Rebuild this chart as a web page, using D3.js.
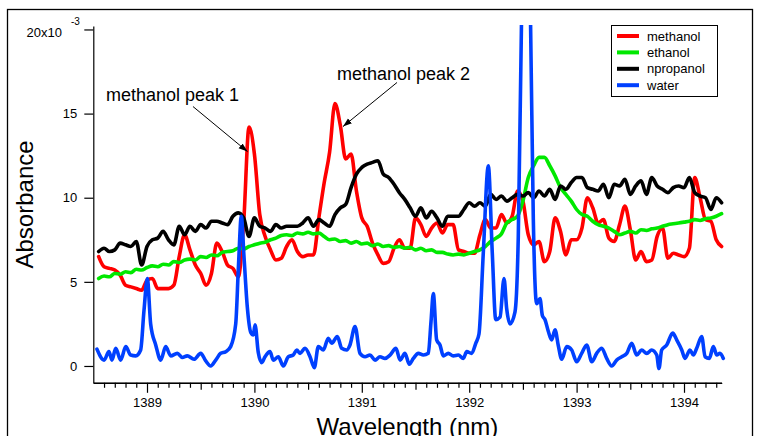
<!DOCTYPE html>
<html><head><meta charset="utf-8">
<script src="https://cdn.jsdelivr.net/npm/d3@7/dist/d3.min.js"></script>
<style>body{margin:0;background:#fff}svg{display:block;font-family:Arial,"Liberation Sans",sans-serif}</style>
</head><body><svg id="c" width="758" height="436"></svg>
<script>
// ---- data (absorbance in units of 1e-3) ----
const wavelength = [1388.55,1388.60,1388.65,1388.70,1388.75,1388.80,1388.85,1388.90,1388.95,
1389.00,1389.05,1389.10,1389.15,1389.20,1389.25,1389.30,1389.35,1389.40,1389.45,1389.50,1389.55,1389.60,1389.65,1389.70,1389.75,1389.80,1389.85,1389.90,1389.95,
1390.00,1390.05,1390.10,1390.15,1390.20,1390.25,1390.30,1390.35,1390.40,1390.45,1390.50,1390.55,1390.60,1390.65,1390.70,1390.75,1390.80,1390.85,1390.90,1390.95,
1391.00,1391.05,1391.10,1391.15,1391.20,1391.25,1391.30,1391.35,1391.40,1391.45,1391.50,1391.55,1391.60,1391.65,1391.70,1391.75,1391.80,1391.85,1391.90,1391.95,
1392.00,1392.05,1392.10,1392.15,1392.20,1392.25,1392.30,1392.35,1392.40,1392.45,1392.50,1392.55,1392.60,1392.65,1392.70,1392.75,1392.80,1392.85,1392.90,1392.95,
1393.00,1393.05,1393.10,1393.15,1393.20,1393.25,1393.30,1393.35,1393.40,1393.45,1393.50,1393.55,1393.60,1393.65,1393.70,1393.75,1393.80,1393.85,1393.90,1393.95,
1394.00,1394.05,1394.10,1394.15,1394.20,1394.25,1394.30,1394.35];

const methanol = [6.5,5.9,5.8,5.7,5.4,4.8,4.7,4.6,4.5,5.1,
5.2,4.6,4.6,4.6,4.8,6.5,7.8,6.9,6.0,5.5,
4.8,5.5,7.3,6.8,6.0,5.8,5.3,8.5,14.2,12.6,
9.0,7.7,6.9,6.3,6.4,7.1,7.5,6.8,6.5,6.6,
6.6,8.8,10.9,12.7,15.6,14.3,12.3,12.6,10.4,8.8,
8.3,7.3,6.6,6.1,6.2,7.0,7.5,7.0,7.0,8.8,
8.4,7.7,8.2,8.5,7.9,8.4,8.4,6.9,6.8,6.7,
6.7,7.8,8.7,8.2,8.2,9.0,8.5,8.9,10.4,9.8,
7.8,7.2,7.4,6.2,6.8,8.8,8.0,6.6,7.5,7.5,
8.2,10.0,9.4,8.5,8.7,7.6,7.4,8.4,9.5,8.1,
6.3,6.8,6.2,6.3,7.7,8.2,6.4,6.7,6.6,6.5,
7.0,11.2,10.0,8.7,8.6,7.5,7.1];

const ethanol = [5.2,5.35,5.3,5.5,5.45,5.6,5.55,5.75,5.7,5.85,
5.95,5.9,6.05,6.0,6.2,6.15,6.3,6.35,6.3,6.5,
6.45,6.6,6.55,6.75,6.8,6.85,7.0,6.95,7.1,7.2,
7.3,7.35,7.5,7.6,7.75,7.8,7.75,7.9,7.85,7.95,
7.85,7.9,7.7,7.5,7.55,7.4,7.45,7.3,7.4,7.25,
7.3,7.15,7.25,7.1,7.15,7.05,7.1,7.0,7.05,6.9,
7.0,6.85,6.9,6.75,6.75,6.65,6.6,6.65,6.6,6.7,
6.8,6.9,7.1,7.4,7.6,7.85,8.5,8.7,8.9,9.8,
11.2,11.9,12.4,12.4,11.9,11.3,10.6,10.2,9.8,9.3,
9.0,8.9,8.6,8.4,8.3,8.2,8.0,7.8,7.9,8.0,
7.9,8.1,8.05,8.15,8.2,8.3,8.4,8.45,8.5,8.55,
8.6,8.7,8.65,8.75,8.8,8.9,9.05];

const npropanol = [6.8,7.0,6.8,6.9,7.3,7.2,7.1,7.4,6.0,7.1,
7.5,7.6,8.0,7.5,7.2,8.3,7.8,8.3,8.0,8.4,
8.2,8.6,8.6,8.5,8.4,8.9,9.1,8.8,7.7,8.8,
8.3,8.2,8.0,8.4,8.2,8.3,8.3,8.3,8.5,8.8,
8.3,8.7,8.5,8.3,9.0,9.4,9.6,10.6,11.4,11.8,
12.0,12.1,12.2,11.4,11.2,10.8,10.3,9.9,9.4,8.9,
9.4,8.8,9.2,8.8,8.3,8.9,8.9,8.9,9.3,9.7,
9.5,9.7,9.5,10.2,9.9,10.1,9.8,10.0,10.2,10.1,
10.3,10.0,10.4,10.1,10.5,9.9,10.7,10.5,10.9,11.2,
11.2,10.6,10.5,10.4,10.8,10.0,10.8,10.7,11.1,10.2,
10.7,11.0,10.2,11.2,10.7,10.5,10.3,10.6,10.7,10.6,
11.2,10.3,10.1,10.0,9.3,10.0,9.7];

const waterWavelength = [1388.534,1388.600,1388.646,1388.674,1388.709,1388.755,1388.802,1388.848,1388.895,1388.941,
1388.972,1389.003,1389.034,1389.081,1389.128,1389.174,1389.221,1389.282,1389.329,1389.375,
1389.438,1389.500,1389.547,1389.593,1389.640,1389.686,1389.733,1389.779,1389.826,1389.852,
1389.878,1389.903,1389.934,1389.966,1389.990,1390.006,1390.036,1390.068,1390.099,1390.145,
1390.176,1390.223,1390.269,1390.316,1390.362,1390.394,1390.425,1390.471,1390.518,1390.558,
1390.595,1390.642,1390.688,1390.720,1390.772,1390.813,1390.859,1390.890,1390.937,1390.983,
1391.030,1391.076,1391.123,1391.169,1391.216,1391.263,1391.318,1391.356,1391.402,1391.442,
1391.480,1391.526,1391.573,1391.619,1391.644,1391.666,1391.697,1391.728,1391.759,1391.805,
1391.852,1391.899,1391.945,1391.977,1392.023,1392.061,1392.091,1392.131,1392.178,1392.215,
1392.247,1392.287,1392.324,1392.349,1392.380,1392.426,1392.457,1392.487,1392.529,1392.571,
1392.597,1392.628,1392.659,1392.681,1392.706,1392.737,1392.768,1392.799,1392.830,1392.861,
1392.908,1392.954,1393.001,1393.047,1393.094,1393.141,1393.187,1393.234,1393.280,1393.327,
1393.373,1393.420,1393.467,1393.513,1393.560,1393.606,1393.653,1393.699,1393.746,1393.767,
1393.792,1393.839,1393.895,1393.932,1393.979,1394.009,1394.056,1394.087,1394.118,1394.165,
1394.196,1394.236,1394.273,1394.305,1394.335,1394.366];

const water = [1.0,0.35,0.85,0.35,1.05,0.35,1.15,0.65,0.6,0.95,
3.3,5.2,2.5,1.25,0.35,1.15,0.6,0.75,0.5,0.6,
0.4,0.75,0.3,0.0,0.35,0.75,0.85,1.15,2.5,6.0,
8.9,6.5,3.5,2.0,1.85,2.45,0.8,0.2,0.55,0.85,
0.35,0.55,0.0,0.55,0.65,0.95,0.75,1.05,0.55,-0.1,
1.15,0.95,1.65,1.35,1.75,1.05,0.95,1.25,2.35,0.75,
0.55,0.65,0.35,0.55,0.45,0.65,1.05,0.35,0.75,0.1,
0.45,0.75,0.65,0.75,2.6,4.3,1.55,1.25,0.6,0.75,
0.6,0.65,0.45,0.85,0.75,1.35,1.9,6.7,11.9,6.7,
2.75,2.9,5.2,3.4,2.5,3.2,7.7,20.5,30,20.5,
8.7,3.7,4.0,3.0,2.75,2.05,1.55,2.15,1.2,0.4,
1.15,0.95,0.25,0.75,1.25,0.25,0.75,1.05,0.45,0.0,
0.35,0.55,0.75,1.35,0.65,0.95,0.75,0.95,0.65,-0.15,
0.95,1.25,1.95,1.55,0.95,0.45,0.95,0.65,1.05,1.75,
0.55,0.45,1.15,0.65,0.75,0.45];

const seriesNames = ["methanol","ethanol","npropanol","water"];
const seriesColors = ["#ff0000","#00e800","#000000","#0040ff"];
const xMajorTicks = [1389,1390,1391,1392,1393,1394];
const yTicks = [0,5,10,15,20];
const annotations = [
  {label:"methanol peak 1", textX:1388.618, textY:15.77, fromX:1389.428, fromY:15.42, toX:1389.936, toY:12.74},
  {label:"methanol peak 2", textX:1390.769, textY:17.02, fromX:1391.328, fromY:16.85, toX:1390.825, toY:14.23}
];

// ---- chart ----
const svg = d3.select("#c");
const X0 = 93.3, X1 = 721.6, YT = 26.1, YB = 382.8;
const x = d3.scaleLinear().domain([1388.5, 1394.35]).range([X0, X1]);
const y = d3.scaleLinear().domain([-1, 20.2]).range([YB, YT]);

svg.append("rect").attr("x",7.5).attr("y",9.5).attr("width",745).attr("height",460)
  .attr("fill","none").attr("stroke","#000").attr("stroke-width",1.3);

const defs = svg.append("defs");
defs.append("clipPath").attr("id","plot").append("rect")
  .attr("x",X0).attr("y",YT-1).attr("width",X1-X0+6).attr("height",YB-YT+1);
defs.append("marker").attr("id","arrow").attr("viewBox","0 0 10 10").attr("refX",10).attr("refY",5)
  .attr("markerWidth",9).attr("markerHeight",9).attr("markerUnits","userSpaceOnUse").attr("orient","auto")
  .append("path").attr("d","M0,1.5L10,5L0,8.5Z").attr("fill","#000");

const line = d3.line().x(d=>x(d[0])).y(d=>y(d[1])).curve(d3.curveMonotoneX);
const seriesData = [
  d3.zip(wavelength, methanol),
  d3.zip(wavelength, ethanol),
  d3.zip(wavelength, npropanol),
  d3.zip(waterWavelength, water)
];
const gLines = svg.append("g").attr("clip-path","url(#plot)");
seriesData.forEach((s,i)=>{
  gLines.append("path").datum(s).attr("d",line).attr("fill","none")
    .attr("stroke",seriesColors[i]).attr("stroke-width",3.6)
    .attr("stroke-linejoin","round").attr("stroke-linecap","round");
});

// axes
const yAxis = d3.axisLeft(y).tickValues(yTicks).tickSize(9).tickSizeOuter(0).tickPadding(7)
  .tickFormat(d=> d===20 ? "" : d);
const gy = svg.append("g").attr("transform",`translate(${X0},0)`).call(yAxis);
gy.selectAll("text").attr("font-size",13).attr("font-family","Arial, 'Liberation Sans', sans-serif").attr("fill","#000");
gy.selectAll("line,path").attr("stroke","#000").attr("stroke-width",1.2);
svg.append("text").attr("x",62).attr("y",36.5).attr("text-anchor","end").attr("font-size",13).text("20x10");
svg.append("text").attr("x",71).attr("y",25).attr("font-size",10).text("-3");

const xMinor = d3.range(1388.6, 1394.35, 0.1).map(v=>+v.toFixed(1))
  .filter(v=> Math.abs(v*2 - Math.round(v*2)) > 1e-6);
const xMid = d3.range(1388.5, 1394.35, 1).map(v=>+v.toFixed(1)).filter(v=>v>1388.55);
function xAxisG(ticks, size, fmt){
  const ax = d3.axisBottom(x).tickValues(ticks).tickSize(size).tickSizeOuter(0).tickPadding(5).tickFormat(fmt);
  const g = svg.append("g").attr("transform",`translate(0,${YB})`).call(ax);
  g.selectAll("line,path").attr("stroke","#000").attr("stroke-width",1.2);
  g.selectAll("text").attr("font-size",13).attr("font-family","Arial, 'Liberation Sans', sans-serif").attr("fill","#000");
  return g;
}
xAxisG(xMinor, 5, ()=>"");
xAxisG(xMid, 7, ()=>"");
xAxisG(xMajorTicks, 10, d=>d);

svg.append("text").attr("x",(X0+X1)/2).attr("y",435).attr("text-anchor","middle")
  .attr("font-size",24).text("Wavelength (nm)");
svg.append("text").attr("transform",`translate(33,${(YT+YB)/2}) rotate(-90)`).attr("text-anchor","middle")
  .attr("font-size",24).text("Absorbance");

// annotations
annotations.forEach(a=>{
  svg.append("text").attr("x",x(a.textX)).attr("y",y(a.textY)).attr("font-size",18).text(a.label);
  svg.append("line").attr("x1",x(a.fromX)).attr("y1",y(a.fromY)).attr("x2",x(a.toX)).attr("y2",y(a.toY))
    .attr("stroke","#000").attr("stroke-width",1).attr("marker-end","url(#arrow)");
});

// legend
const lg = svg.append("g").attr("transform","translate(611,25)");
lg.append("rect").attr("x",0.5).attr("y",0.5).attr("width",106).attr("height",71)
  .attr("fill","#fff").attr("stroke","#000").attr("stroke-width",1);
seriesNames.forEach((n,i)=>{
  const cy = 11 + i*16.4;
  lg.append("line").attr("x1",6).attr("x2",28).attr("y1",cy).attr("y2",cy)
    .attr("stroke",seriesColors[i]).attr("stroke-width",4);
  lg.append("text").attr("x",36).attr("y",cy+4.5).attr("font-size",13).text(n);
});
</script></body></html>
